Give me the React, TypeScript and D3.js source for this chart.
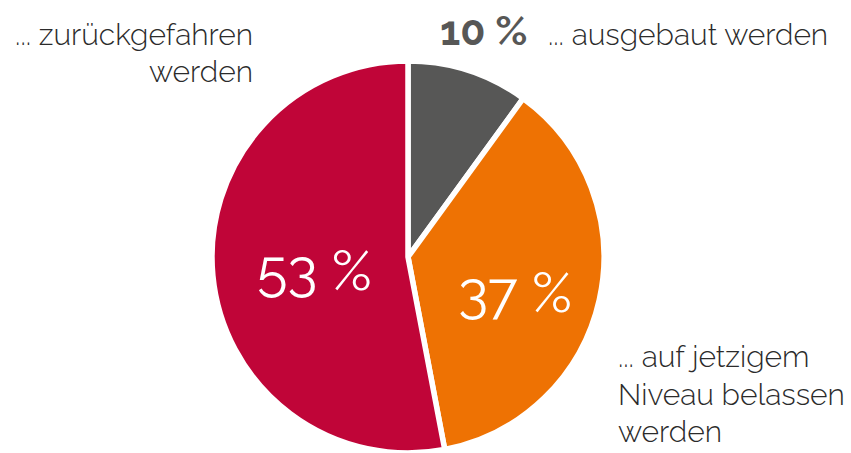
import React from "react";
import * as d3 from "d3";

const categories = ["... ausgebaut werden", "... auf jetzigem Niveau belassen werden", "... zurückgefahren werden"];
const values = [10, 37, 53];
const valueLabels = ["10 %", "37 %", "53 %"];
const colors = ["#575756", "#EE7203", "#C00538"];

const W = 851;
const H = 453;
const cx = 408;
const cy = 257;
const R = 196;
const FONT = "Raleway, Lato, 'Open Sans', sans-serif";
const labelRadius = [0, 0.56, 0.48];
const labelDy = ["0em", "0.55em", "0.43em"];

export default function App() {
  const pie = d3.pie<number>().sort(null).value((d) => d);
  const arcs = pie(values);
  const arc = d3.arc<d3.PieArcDatum<number>>().innerRadius(0).outerRadius(R);

  return (
    <svg width={W} height={H} style={{ position: "absolute", left: 0, top: 0, background: "#fff" }}>
      <g transform={`translate(${cx},${cy})`}>
        {arcs.map((a, i) => (
          <path key={i} d={arc(a) || ""} fill={colors[i]} stroke="#fff" strokeWidth={5.5} strokeLinejoin="miter" />
        ))}
        {arcs.map((a, i) => {
          if (i === 0) return null;
          const lr = R * labelRadius[i];
          const [x, y] = d3.arc<d3.PieArcDatum<number>>().innerRadius(lr).outerRadius(lr).centroid(a);
          return (
            <text key={i} x={x} y={y} dy={labelDy[i]} textAnchor="middle" fill="#fff"
              fontFamily={FONT} fontSize={56} fontWeight={400}>
              {valueLabels[i]}
            </text>
          );
        })}
      </g>
      <text x={440} y={45} fontFamily={FONT} fontSize={41} fontWeight={700} fill="#575756">{valueLabels[0]}</text>
      <text x={548} y={45} fontFamily={FONT} fontSize={30} fontWeight={300} fill="#2b2b2b">{categories[0]}</text>
      <text textAnchor="end" fontFamily={FONT} fontSize={30} fontWeight={300} fill="#2b2b2b">
        <tspan x={253} y={45}>... zurückgefahren</tspan>
        <tspan x={253} y={82}>werden</tspan>
      </text>
      <text fontFamily={FONT} fontSize={30} fontWeight={300} fill="#2b2b2b">
        <tspan x={618} y={367}>... auf jetzigem</tspan>
        <tspan x={618} y={405}>Niveau belassen</tspan>
        <tspan x={618} y={442}>werden</tspan>
      </text>
    </svg>
  );
}
